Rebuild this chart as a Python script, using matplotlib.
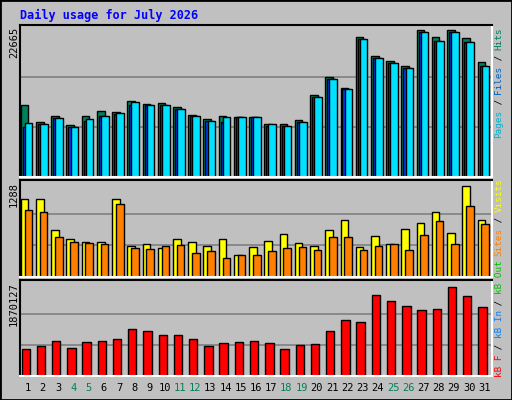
import matplotlib
matplotlib.use("Agg")
import matplotlib.pyplot as plt
import numpy as np

days = list(range(1, 32))
weekend = [4, 5, 11, 12, 18, 19, 25, 26]
hits_top = [104,121,115,124,115,110,111,100,103,102,106,114,118,115,116,116,123,123,119,94,76,87,36,55,60,65,29,36,29,37,61]
files_top = [126,123,117,126,120,115,113,104,104,104,108,115,120,121,116,116,125,125,121,96,78,88,38,57,62,67,31,40,31,41,65]
pages_top = [122,123,117,126,118,115,112,101,104,104,108,115,120,116,116,116,123,125,121,96,78,88,38,57,62,67,31,40,31,41,65]
hits = [round((176 - t) / 150 * 22665) for t in hits_top]
files = [round((176 - t) / 150 * 22665) for t in files_top]
pages = [round((176 - t) / 150 * 22665) for t in pages_top]
visits_top = [197,197,229,238,241,241,197,245,243,247,238,241,245,238,254,246,240,233,242,245,229,219,246,235,243,228,222,211,232,184,219]
sites_top = [209,211,236,241,242,243,203,247,248,245,244,252,250,258,254,254,250,247,246,249,236,236,249,245,243,249,234,220,243,204,223]
visits = [round((277 - t) / 97 * 1288) for t in visits_top]
sites = [round((277 - t) / 97 * 1288) for t in sites_top]
kb_top = [347,344,339,346,340,339,337,327,329,333,333,337,344,341,340,339,341,347,343,342,329,318,320,292,298,303,308,307,284,293,305]
kbytes = [round((375 - t) / 95 * 1870127) for t in kb_top]
max_hits, max_visits, max_kb = 22665, 1288, 1870127

W, H = 512, 400
fig = plt.figure(figsize=(5.12, 4.0), dpi=100, facecolor="#C0C0C0")
mono = "DejaVu Sans Mono"

def ax_at(x0, y0, x1, y1):
    a = fig.add_axes([x0 / W, 1 - y1 / H, (x1 - x0) / W, (y1 - y0) / H])
    a.set_facecolor("#C0C0C0")
    a.set_xlim(0.5, 31.5)
    a.set_xticks([]); a.set_yticks([])
    for s in a.spines.values():
        s.set_linewidth(1.5)
    a.spines["right"].set_color("white"); a.spines["bottom"].set_color("white")
    return a

x = np.array(days, dtype=float)
ek = dict(edgecolor="black", linewidth=1, align="edge", width=0.5)

a1 = ax_at(20, 25, 492, 177)
a1.set_ylim(0, max_hits * 150 / 150 * (152 / 150))
for g in (1/3, 2/3):
    a1.axhline(max_hits * g, color="#808080", lw=1.2, zorder=0)
a1.bar(x - 0.45, hits, color="#00805C", **ek)
a1.bar(x - 0.32, files, color="#0040FF", **ek)
a1.bar(x - 0.18, pages, color="#00E0FF", **ek)

a2 = ax_at(20, 180, 492, 277)
a2.set_ylim(0, max_visits * 97 / 95)
for g in (1/3, 2/3):
    a2.axhline(max_visits * g, color="#808080", lw=1.2, zorder=0)
a2.bar(x - 0.45, visits, color="#FFFF00", **ek)
a2.bar(x - 0.2, sites, color="#FF8000", **ek)

a3 = ax_at(20, 280, 492, 376)
a3.set_ylim(0, max_kb * 96 / 93)
for g in (1/3, 2/3):
    a3.axhline(max_kb * g, color="#808080", lw=1.2, zorder=0)
a3.bar(x - 0.4, kbytes, color="#FF0000", edgecolor="black", linewidth=1, align="edge", width=0.55)

def fx(px): return px / W
def fy(py): return 1 - py / H

fig.text(fx(20), fy(15), "Daily usage for July 2026", family=mono, weight="bold",
         color="#0000FF", fontsize=8.5, va="center", ha="left")
for lbl, yy in ((str(max_hits), 27), (str(max_visits), 182), (str(max_kb), 282)):
    fig.text(fx(14), fy(yy), lbl, family=mono, fontsize=7.5, rotation=90, ha="center", va="top")

ax_w = 472
for d in days:
    px = 20 + (d - 0.5) * ax_w / 31
    fig.text(fx(px), fy(388), str(d), family=mono, fontsize=7.5, ha="center", va="center",
             color="#00805C" if d in weekend else "black")

cw = 5.5
def vlabel(pieces, ystart, xpx=499):
    y = ystart
    for txt, col in pieces:
        fig.text(fx(xpx), fy(y), txt, family=mono, fontsize=6.7, rotation=90,
                 ha="center", va="bottom", color=col)
        y -= cw * len(txt)

vlabel([("Pages", "#00B0D0"), (" / ", "black"), ("Files", "#0060C0"), (" / ", "black"), ("Hits", "#00805C")], 138)
vlabel([("kB F", "#FF0000"), (" / ", "black"), ("kB In", "#0080FF"), (" / ", "black"), ("kB Out", "#00C000"),
        (" ", "black"), ("Sites", "#FF8000"), (" / ", "black"), ("Visits", "#FFFF00")], 377)

fig.patches.append(plt.Rectangle((0, 0), 1, 1, transform=fig.transFigure, fill=False,
                                 edgecolor="black", linewidth=2))
fig.savefig("out.png", dpi=100, facecolor=fig.get_facecolor())
